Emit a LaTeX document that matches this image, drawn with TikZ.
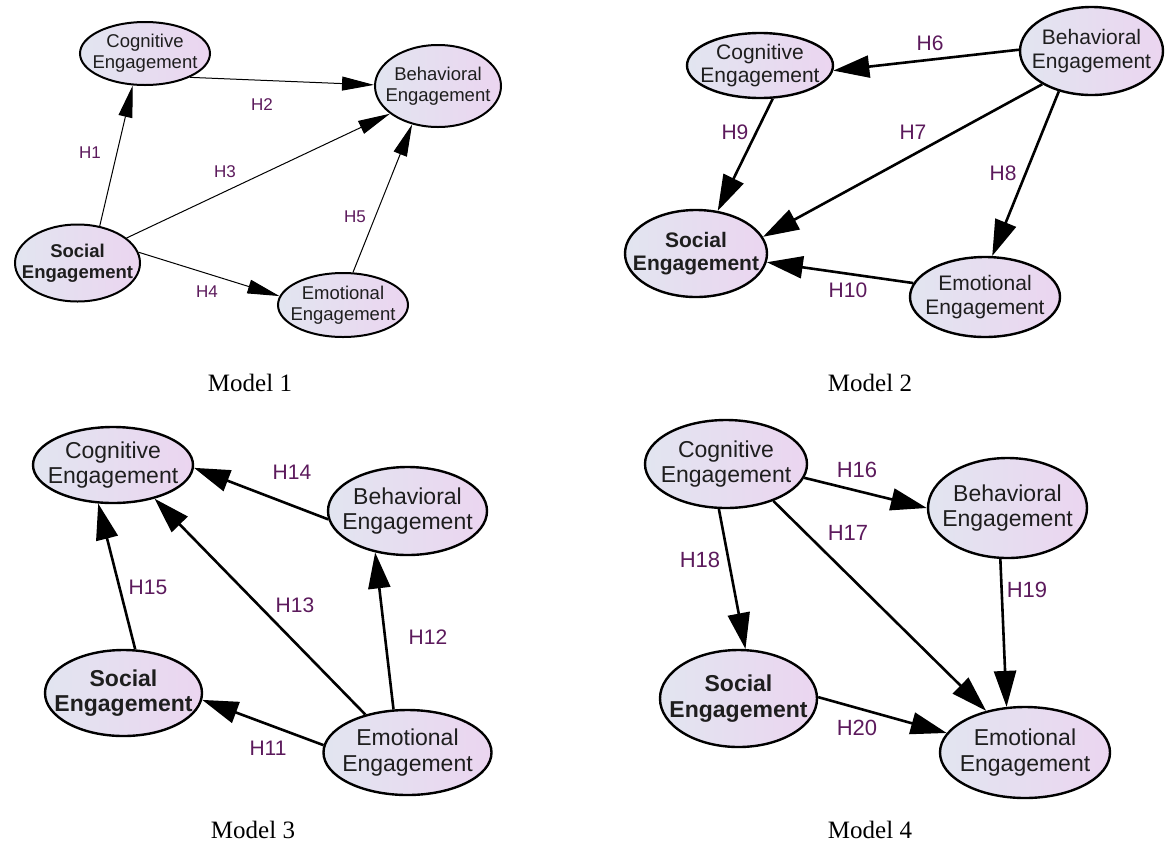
\documentclass[tikz,border=0pt]{standalone}
\usepackage{fontspec}
\setmainfont{Liberation Serif}
\newfontfamily\arialf{Liberation Sans}
\usetikzlibrary{shapes.geometric,arrows.meta}
\definecolor{hlab}{RGB}{92,26,92}
\definecolor{ellL}{RGB}{226,229,240}
\definecolor{ellR}{RGB}{235,213,240}
\definecolor{etxt}{RGB}{30,30,30}
\tikzset{
  ell/.style={ellipse, draw=black, line width=2pt, left color=ellL, right color=ellR, inner sep=0pt},
  tA/.style={font=\arialf\fontsize{18.5}{21}\selectfont, align=center, text=etxt},
  tB/.style={font=\arialf\fontsize{21}{23.5}\selectfont, align=center, text=etxt},
  tC/.style={font=\arialf\fontsize{23}{25.5}\selectfont, align=center, text=etxt},
  boldt/.style={font=\arialf\bfseries\fontsize{#1}{#1*1.12}\selectfont},
  labA/.style={font=\arialf\fontsize{17}{17}\selectfont, text=hlab},
  labB/.style={font=\arialf\fontsize{21}{21}\selectfont, text=hlab},
  labC/.style={font=\arialf\fontsize{22}{22}\selectfont, text=hlab},
  arA/.style={line width=1pt, -{Triangle[length=32pt,width=14pt]}},
  arB/.style={line width=2.6pt, -{Triangle[length=36pt,width=22pt]}},
  capt/.style={font=\fontsize{25}{25}\selectfont}
}
\begin{document}
\begin{tikzpicture}[x=1pt,y=-1pt]
\path[use as bounding box, fill=white] (0,0) rectangle (1170,847);

% ---------------- Model 1 ----------------
\node[ell, minimum width=130pt, minimum height=63pt] (c1) at (145,53.5) {};
\node[tA] (c1t) at (c1) {Cognitive\\Engagement};
\node[ell, minimum width=126pt, minimum height=82pt] (b1) at (438,86) {};
\node[tA] (b1t) at (b1) {Behavioral\\Engagement};
\node[ell, minimum width=125pt, minimum height=77pt] (s1) at (77.5,263) {};
\node[tA, font=\arialf\bfseries\fontsize{18.5}{21}\selectfont] (s1t) at (s1) {Social\\Engagement};
\node[ell, minimum width=130pt, minimum height=64pt] (e1) at (343,305) {};
\node[tA] (e1t) at (e1) {Emotional\\Engagement};

\draw[arA] (s1.59) -- (c1.249);
\draw[arA] (c1.-28) -- (b1.179);
\draw[arA] (s1.27) -- (b1.210);
\draw[arA] (s1.10) -- (e1.172);
\draw[arA] (e1.73) -- (b1.236);

\node[labA] (h1) at (90,153) {H1};
\node[labA] (h2) at (262,105) {H2};
\node[labA] (h3) at (225,172) {H3};
\node[labA] (h4) at (207,292) {H4};
\node[labA] (h5) at (355,217) {H5};

\node[capt] (m1) at (250,383) {Model 1};

% ---------------- Model 2 ----------------
\node[ell, line width=2.4pt, minimum width=146pt, minimum height=65pt] (c2) at (760,65.5) {};
\node[tB] (c2t) at (c2) {Cognitive\\Engagement};
\node[ell, line width=2.4pt, minimum width=143pt, minimum height=88pt] (b2) at (1091.5,51) {};
\node[tB] (b2t) at (b2) {Behavioral\\Engagement};
\node[ell, line width=2.4pt, minimum width=142pt, minimum height=87pt] (s2) at (696,253.5) {};
\node[tB, font=\arialf\bfseries\fontsize{21}{23.5}\selectfont] (s2t) at (s2) {Social\\Engagement};
\node[ell, line width=2.4pt, minimum width=150pt, minimum height=80pt] (e2) at (985,297) {};
\node[tB] (e2t) at (e2) {Emotional\\Engagement};

\draw[arB] (b2.179) -- (c2.-4);
\draw[arB] (c2.291) -- (s2.63);
\draw[arB] (b2.214.5) -- (s2.14);
\draw[arB] (b2.231) -- (e2.80);
\draw[arB] (e2.169) -- (s2.-7);

\node[labB] (h6) at (930,43) {H6};
\node[labB] (h9) at (735,132) {H9};
\node[labB] (h7) at (913,132) {H7};
\node[labB] (h8) at (1003,173) {H8};
\node[labB] (h10) at (848,290) {H10};

\node[capt] (m2) at (870,383) {Model 2};

% ---------------- Model 3 ----------------
\node[ell, line width=2.4pt, minimum width=160pt, minimum height=76pt] (c3) at (113,465) {};
\node[tC] (c3t) at (c3) {Cognitive\\Engagement};
\node[ell, line width=2.4pt, minimum width=159pt, minimum height=88pt] (b3) at (407.5,511) {};
\node[tC] (b3t) at (b3) {Behavioral\\Engagement};
\node[ell, line width=2.4pt, minimum width=157pt, minimum height=86pt] (s3) at (123.5,693) {};
\node[tC, font=\arialf\bfseries\fontsize{23}{25.5}\selectfont] (s3t) at (s3) {Social\\Engagement};
\node[ell, line width=2.4pt, minimum width=168pt, minimum height=85pt] (e3) at (407.5,752.5) {};
\node[tC] (e3t) at (e3) {Emotional\\Engagement};

\draw[arB] (b3.186.5) -- (c3.-2);
\draw[arB] (s3.75) -- (c3.249);
\draw[arB] (e3.138) -- (c3.-39);
\draw[arB] (e3.108) -- (b3.232);
\draw[arB] (e3.175) -- (s3.-5);

\node[labB] (h14) at (292,472) {H14};
\node[labB] (h15) at (148,587) {H15};
\node[labB] (h13) at (295,605) {H13};
\node[labB] (h12) at (428,637) {H12};
\node[labB] (h11) at (268,748) {H11};

\node[capt] (m3) at (253,830) {Model 3};

% ---------------- Model 4 ----------------
\node[ell, line width=2.4pt, minimum width=162pt, minimum height=88pt] (c4) at (726,464) {};
\node[tC] (c4t) at (c4) {Cognitive\\Engagement};
\node[ell, line width=2.4pt, minimum width=159pt, minimum height=100pt] (b4) at (1007.5,508) {};
\node[tC] (b4t) at (b4) {Behavioral\\Engagement};
\node[ell, line width=2.4pt, minimum width=157pt, minimum height=97pt] (s4) at (738.5,698.5) {};
\node[tC, font=\arialf\bfseries\fontsize{23}{25.5}\selectfont] (s4t) at (s4) {Social\\Engagement};
\node[ell, line width=2.4pt, minimum width=170pt, minimum height=91pt] (e4) at (1025,752.5) {};
\node[tC] (e4t) at (e4) {Emotional\\Engagement};

\draw[arB] (c4.-10) -- (b4.180);
\draw[arB] (c4.-38) -- (e4.133);
\draw[arB] (c4.261) -- (s4.82);
\draw[arB] (b4.262) -- (e4.112);
\draw[arB] (s4.1) -- (e4.166);

\node[labC] (h16) at (857,470) {H16};
\node[labC] (h17) at (848,533) {H17};
\node[labC] (h18) at (700,560) {H18};
\node[labC] (h19) at (1027,590) {H19};
\node[labC] (h20) at (857,728) {H20};

\node[capt] (m4) at (870,830) {Model 4};
\end{tikzpicture}
\end{document}
